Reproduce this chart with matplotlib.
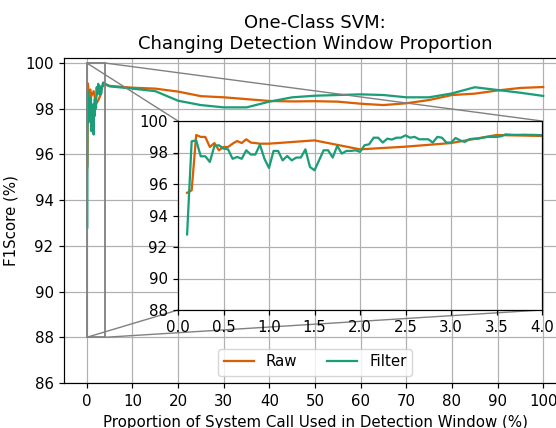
import numpy as np
import matplotlib
matplotlib.use("Agg")
import matplotlib.pyplot as plt

# ---- data ----
raw_x = [0.1, 0.15, 0.2, 0.25, 0.3, 0.35, 0.4, 0.45, 0.5, 0.55, 0.6, 0.65, 0.7,
         0.75, 0.8, 0.85, 0.9, 1.0, 1.5, 2.0, 2.5, 3.0, 3.5, 4.0,
         5, 10, 15, 20, 25, 30, 35, 40, 45, 50, 55, 60, 65, 70, 75, 80, 85, 90, 95, 100]
raw_y = [95.44, 95.6, 99.11, 98.99, 98.99, 98.35, 98.6, 98.14, 98.35, 98.35, 98.56, 98.73, 98.6,
         98.84, 98.63, 98.6, 98.56, 98.56, 98.77, 98.2, 98.37, 98.6, 99.11, 99.05,
         99.0, 98.92, 98.88, 98.75, 98.55, 98.5, 98.42, 98.34, 98.32, 98.33, 98.31, 98.22,
         98.16, 98.24, 98.38, 98.6, 98.66, 98.8, 98.91, 98.95]

filter_x_fine = list(np.round(np.arange(0.1, 4.001, 0.05), 2))
filter_y_fine = [92.8, 98.71, 98.77, 97.76, 97.76, 97.4, 98.42, 98.46, 98.25, 98.2,
                 97.6, 97.72, 97.6, 98.14, 97.87, 97.87, 98.5, 97.6, 97.02, 98.1,
                 98.1, 97.5, 97.78, 97.5, 97.68, 97.68, 98.2, 97.08, 96.87, 97.5,
                 98.14, 98.14, 97.68, 98.42, 97.93, 98.1, 98.1, 98.14, 98.04, 98.46,
                 98.52, 98.94, 98.94, 98.63, 98.88, 98.82, 98.94, 98.94, 99.09, 98.94,
                 98.99, 98.84, 98.84, 98.84, 98.63, 98.99, 98.94, 98.63, 98.63, 98.92,
                 98.77, 98.67, 98.84, 98.88, 98.88, 98.94, 98.99, 98.99, 98.99, 99.03,
                 99.15, 99.13, 99.12, 99.12, 99.13, 99.12, 99.12, 99.11, 99.1]
filter_x_coarse = [5, 10, 15, 20, 25, 30, 35, 40, 45, 50, 55, 60, 65, 70, 75, 80, 85, 90, 95, 100]
filter_y_coarse = [98.98, 98.88, 98.77, 98.35, 98.16, 98.06, 98.06, 98.31, 98.5, 98.57,
                   98.6, 98.63, 98.6, 98.5, 98.5, 98.67, 98.94, 98.82, 98.7, 98.56]
filter_x = filter_x_fine + filter_x_coarse
filter_y = filter_y_fine + filter_y_coarse

main_xticks = [0, 10, 20, 30, 40, 50, 60, 70, 80, 90, 100]
main_yticks = [86, 88, 90, 92, 94, 96, 98, 100]
inset_xticks = [0.0, 0.5, 1.0, 1.5, 2.0, 2.5, 3.0, 3.5, 4.0]
inset_yticks = [88, 90, 92, 94, 96, 98, 100]

c_raw = "#d95f02"
c_filter = "#1b9e77"

s = 1.08
plt.rcParams.update({
    "font.size": 10 * s,
    "axes.linewidth": 0.8 * s,
    "xtick.major.size": 3.5 * s,
    "ytick.major.size": 3.5 * s,
    "xtick.major.width": 0.8 * s,
    "ytick.major.width": 0.8 * s,
    "xtick.major.pad": 3.5 * s,
    "ytick.major.pad": 3.5 * s,
    "axes.labelpad": 4 * s,
    "axes.titlepad": 6 * s,
    "legend.fontsize": 10 * s,
})

fig = plt.figure(figsize=(5.56, 4.28), dpi=100)
ax = fig.add_axes([64/556, 45/428, 502/556, 325/428])

lw = 1.5 * s
ax.plot(raw_x, raw_y, color=c_raw, lw=lw, label="Raw")
ax.plot(filter_x, filter_y, color=c_filter, lw=lw, label="Filter")
ax.set_xlim(-5, 105)
ax.set_ylim(86, 100.22)
ax.set_xticks(main_xticks)
ax.set_yticks(main_yticks)
ax.tick_params(labelsize=10 * s)
ax.grid(True, color="#b0b0b0", lw=0.8 * s)
ax.set_xlabel("Proportion of System Call Used in Detection Window (%)", fontsize=10 * s)
ax.set_ylabel("F1Score (%)", fontsize=10 * s)
ax.set_title("One-Class SVM:\nChanging Detection Window Proportion", fontsize=12 * s)
ax.legend(loc="lower center", ncol=2, fontsize=10 * s)

axins = fig.add_axes([178/556, (428-310)/428, 364/556, 189/428])
axins.plot(raw_x, raw_y, color=c_raw, lw=lw)
axins.plot(filter_x, filter_y, color=c_filter, lw=lw)
axins.set_xlim(0, 4)
axins.set_ylim(88, 100)
axins.set_xticks(inset_xticks)
axins.set_yticks(inset_yticks)
axins.tick_params(labelsize=10 * s)
axins.grid(True, color="#b0b0b0", lw=0.8 * s)

ind = ax.indicate_inset_zoom(axins, edgecolor="0.5", alpha=1, lw=1.3)
try:
    for c in ind.connectors:
        c.set_visible(True)
        c.set_linewidth(1.0)
except AttributeError:
    for c in ind[1]:
        c.set_visible(True)

fig.savefig("out.png", dpi=100)
